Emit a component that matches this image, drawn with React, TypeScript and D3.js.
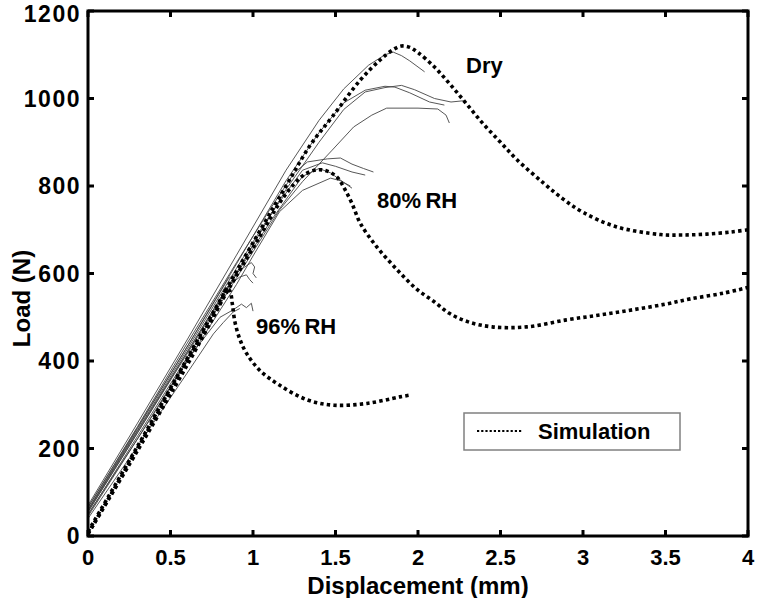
import React from "react";
import * as d3 from "d3";

const xTicks = [0, 0.5, 1, 1.5, 2, 2.5, 3, 3.5, 4];
const yTicks = [0, 200, 400, 600, 800, 1000, 1200];

// Simulation curves [displacement mm, load N]
const simDry: [number, number][] = [
  [0, 10], [0.3, 205], [0.6, 405], [0.9, 605], [1.2, 800], [1.35, 895], [1.48, 958],
  [1.65, 1042], [1.77, 1088], [1.85, 1112], [1.9, 1120], [1.95, 1117], [2.0, 1105],
  [2.1, 1072], [2.2, 1030], [2.3, 985], [2.4, 940], [2.5, 900],
  [2.6, 860], [2.76, 807], [2.88, 770], [3.0, 740], [3.2, 707], [3.47, 689],
  [3.6, 688], [3.75, 690], [3.9, 695], [4.0, 700],
];
const sim80: [number, number][] = [
  [0, 5], [0.3, 200], [0.6, 400], [0.9, 595], [1.05, 690], [1.15, 755], [1.25, 805],
  [1.32, 828], [1.39, 837], [1.45, 834], [1.51, 820], [1.56, 790], [1.6, 760],
  [1.65, 715], [1.75, 661], [1.87, 610], [1.99, 565], [2.1, 535], [2.19, 509],
  [2.3, 490], [2.45, 478], [2.66, 478], [2.9, 494], [3.1, 505], [3.3, 517],
  [3.5, 530], [3.65, 542], [3.85, 555], [4.0, 568],
];
const sim96: [number, number][] = [
  [0, 5], [0.3, 195], [0.6, 390], [0.8, 530], [0.84, 565], [0.86, 560], [0.875, 530],
  [0.89, 490], [0.92, 450], [0.96, 418], [1.04, 379], [1.16, 345], [1.33, 311],
  [1.49, 299], [1.69, 303], [1.89, 318], [1.95, 322],
];

// Experimental curves
const expDry1: [number, number][] = [
  [0, 70], [0.3, 258], [0.6, 448], [0.9, 642], [1.2, 836], [1.4, 950], [1.55, 1022],
  [1.7, 1076], [1.8, 1100], [1.85, 1106], [1.9, 1098], [1.95, 1086], [2.04, 1061],
];
const expDry2: [number, number][] = [
  [0, 60], [0.3, 246], [0.6, 432], [0.9, 622], [1.2, 812], [1.4, 922], [1.55, 990],
  [1.68, 1019], [1.8, 1028], [1.86, 1026], [1.95, 1013], [2.07, 992], [2.16, 985],
];
const expDry3: [number, number][] = [
  [0, 55], [0.3, 236], [0.6, 420], [0.9, 602], [1.2, 792], [1.4, 900], [1.55, 975],
  [1.68, 1015], [1.8, 1025], [1.9, 1030], [1.98, 1020], [2.1, 1000], [2.2, 992],
  [2.28, 995],
];
const expDry4: [number, number][] = [
  [0, 48], [0.3, 228], [0.6, 408], [0.9, 590], [1.16, 745], [1.3, 810], [1.48, 882],
  [1.61, 935], [1.72, 962], [1.81, 978], [2.0, 978], [2.12, 976], [2.17, 962],
  [2.19, 944],
];
const exp80a: [number, number][] = [
  [0, 65], [0.3, 250], [0.6, 440], [0.9, 625], [1.1, 745], [1.25, 830], [1.33, 855],
  [1.45, 862], [1.53, 864], [1.6, 850], [1.67, 840], [1.73, 832],
];
const exp80b: [number, number][] = [
  [0, 60], [0.3, 242], [0.6, 426], [0.9, 612], [1.1, 732], [1.3, 836], [1.42, 853],
  [1.5, 845], [1.6, 832], [1.68, 825],
];
const exp80c: [number, number][] = [
  [0, 55], [0.3, 236], [0.6, 416], [0.9, 598], [1.1, 716], [1.3, 822], [1.4, 840],
  [1.47, 830], [1.55, 808], [1.6, 795],
];
const exp80d: [number, number][] = [
  [0, 45], [0.3, 222], [0.6, 398], [0.9, 575], [1.0, 640], [1.16, 741], [1.3, 790],
  [1.47, 818], [1.53, 812], [1.59, 800],
];
const exp96a: [number, number][] = [
  [0, 66], [0.3, 248], [0.6, 432], [0.85, 588], [0.95, 615], [0.99, 625], [1.01, 615],
  [1.0, 600], [1.02, 590],
];
const exp96b: [number, number][] = [
  [0, 58], [0.3, 240], [0.6, 420], [0.85, 572], [0.92, 592], [0.96, 597], [0.98, 586],
  [1.0, 578],
];
const exp96c: [number, number][] = [
  [0, 50], [0.3, 222], [0.6, 402], [0.8, 500], [0.88, 517], [0.93, 530], [0.96, 522],
  [0.99, 532], [1.0, 514],
];
const exp96d: [number, number][] = [
  [0, 40], [0.3, 205], [0.6, 372], [0.76, 462], [0.82, 488], [0.88, 512], [0.92, 520],
];

const simCurves = [simDry, sim80, sim96];
const expCurves = [
  expDry1, expDry2, expDry3, expDry4,
  exp80a, exp80b, exp80c, exp80d,
  exp96a, exp96b, exp96c, exp96d,
];

const W = 757;
const H = 598;
const M = { left: 88, right: 748, top: 11, bottom: 536 };

export default function App() {
  const x = d3.scaleLinear().domain([0, 4]).range([M.left, M.right]);
  const y = d3.scaleLinear().domain([0, 1200]).range([M.bottom, M.top]);
  const simLine = d3
    .line<[number, number]>()
    .x((d) => x(d[0]))
    .y((d) => y(d[1]))
    .curve(d3.curveCatmullRom.alpha(0.5));
  const expLine = d3
    .line<[number, number]>()
    .x((d) => x(d[0]))
    .y((d) => y(d[1]))
    .curve(d3.curveLinear);

  const font = "'Liberation Sans', Arial, Helvetica, sans-serif";
  const tickLen = 6;

  return (
    <svg
      width={W}
      height={H}
      style={{ position: "absolute", left: 0, top: 0, background: "#fff" }}
      fontFamily={font}
      fontWeight="bold"
    >
      <rect x={0} y={0} width={W} height={H} fill="#fff" />
      <defs>
        <clipPath id="plot">
          <rect x={M.left} y={M.top} width={M.right - M.left} height={M.bottom - M.top} />
        </clipPath>
      </defs>

      <g clipPath="url(#plot)">
        {expCurves.map((c, i) => (
          <path key={"e" + i} d={expLine(c) || ""} fill="none" stroke="#444" strokeWidth={0.9} />
        ))}
        {simCurves.map((c, i) => (
          <path
            key={"s" + i}
            d={simLine(c) || ""}
            fill="none"
            stroke="#000"
            strokeWidth={3.6}
            strokeDasharray="3.4 3.2"
          />
        ))}
      </g>

      {/* box */}
      <rect
        x={M.left}
        y={M.top}
        width={M.right - M.left}
        height={M.bottom - M.top}
        fill="none"
        stroke="#000"
        strokeWidth={3}
      />

      {/* x ticks */}
      {xTicks.map((t) => (
        <g key={"xt" + t}>
          <line x1={x(t)} x2={x(t)} y1={M.bottom} y2={M.bottom - tickLen} stroke="#000" strokeWidth={3} />
          <line x1={x(t)} x2={x(t)} y1={M.top} y2={M.top + tickLen} stroke="#000" strokeWidth={3} />
          <text x={x(t)} y={565} textAnchor="middle" fontSize={22}>
            {String(t)}
          </text>
        </g>
      ))}

      {/* y ticks */}
      {yTicks.map((t) => (
        <g key={"yt" + t}>
          <line x1={M.left} x2={M.left + tickLen} y1={y(t)} y2={y(t)} stroke="#000" strokeWidth={3} />
          <line x1={M.right} x2={M.right - tickLen} y1={y(t)} y2={y(t)} stroke="#000" strokeWidth={3} />
          <text
            x={81}
            y={Math.max(y(t) + 8, 22)}
            textAnchor="end"
            fontSize={23}
            letterSpacing={1.5}
          >
            {String(t)}
          </text>
        </g>
      ))}

      {/* axis titles */}
      <text x={(M.left + M.right) / 2} y={594} textAnchor="middle" fontSize={24}>
        Displacement (mm)
      </text>
      <text
        transform={`translate(30, ${(M.top + M.bottom) / 2 + 25}) rotate(-90)`}
        textAnchor="middle"
        fontSize={24}
      >
        Load (N)
      </text>

      {/* annotations */}
      <text x={466} y={73} fontSize={22}>Dry</text>
      <text x={377} y={208} fontSize={22}>80%&#8201;RH</text>
      <text x={256} y={334} fontSize={22}>96%&#8201;RH</text>

      {/* legend */}
      <rect x={464} y={413} width={216} height={37} fill="#fff" stroke="#808080" strokeWidth={1.5} />
      <line x1={477} x2={523} y1={431} y2={431} stroke="#000" strokeWidth={2.2} strokeDasharray="2.2 2" />
      <text x={538} y={439} fontSize={22}>Simulation</text>
    </svg>
  );
}
